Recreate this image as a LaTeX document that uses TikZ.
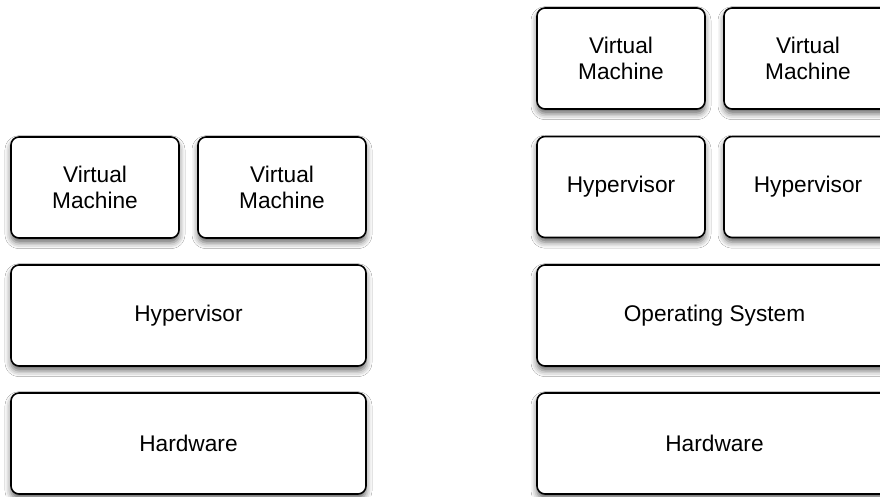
\documentclass[tikz,border=0pt]{standalone}
\usepackage{fontspec}
\setmainfont{Liberation Sans}
\usetikzlibrary{shadows.blur}
\tikzset{
  layer/.style={draw=black, line width=1.2pt, fill=white, rounded corners=6pt,
    inner sep=0pt, outer sep=0pt, minimum height=75.75pt, align=center,
    font=\fontsize{17pt}{19pt}\selectfont,
    blur shadow={shadow xshift=0pt, shadow yshift=-3.5pt, shadow blur radius=4.5pt, shadow opacity=60}},
  narrow/.style={layer, minimum width=126pt},
  wide/.style={layer, minimum width=266.25pt}
}
\begin{document}
\begin{tikzpicture}[x=0.75pt,y=-0.75pt]
\useasboundingbox (0,0) rectangle (880,496);
\clip (0,0) rectangle (880,496);
\fill[white] (0,0) rectangle (880,496);
% left stack
\node[narrow] (lvm1) at (95,187.5) {Virtual\\Machine};
\node[narrow] (lvm2) at (282,187.5) {Virtual\\Machine};
\node[wide] (lhyp) at (188.5,315.5) {Hypervisor};
\node[wide] (lhw) at (188.5,443.5) {Hardware};
% right stack
\node[narrow] (rvm1) at (621,58.5) {Virtual\\Machine};
\node[narrow] (rvm2) at (808,58.5) {Virtual\\Machine};
\node[narrow] (rhyp1) at (621,187) {Hypervisor};
\node[narrow] (rhyp2) at (808,187) {Hypervisor};
\node[wide] (ros) at (714.5,315.5) {Operating System};
\node[wide] (rhw) at (714.5,443.5) {Hardware};
\end{tikzpicture}
\end{document}
